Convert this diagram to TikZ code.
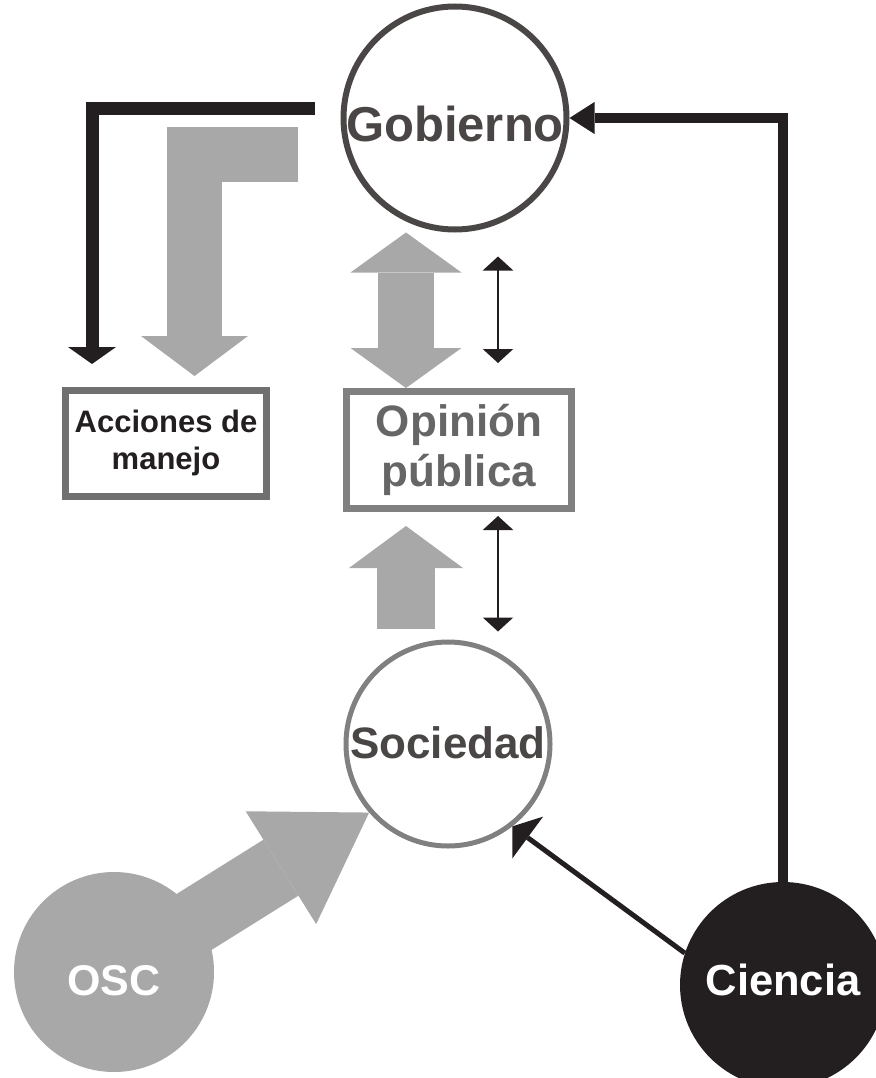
\documentclass[tikz,border=0pt]{standalone}
\usepackage{fontspec}
\setmainfont{Liberation Sans}
\usetikzlibrary{arrows.meta}

\definecolor{ink}{HTML}{231F20}
\definecolor{darkline}{HTML}{4A4646}
\definecolor{midline}{HTML}{808080}
\definecolor{boxline}{HTML}{707070}
\definecolor{fatgray}{HTML}{A8A8A8}
\definecolor{optext}{HTML}{666666}

\tikzset{
  actor/.style={circle, inner sep=0pt},
  panel/.style={rectangle, draw, line width=7pt, inner sep=0pt, align=center},
  fat/.style={draw=fatgray, line width=#1},
  thin/.style={draw=ink, line width=2.5pt, {Triangle[length=14pt,width=30pt]}-{Triangle[length=14pt,width=30pt]}}
}

\begin{document}
\begin{tikzpicture}[x=1pt,y=-1pt]
    \useasboundingbox (0,0) rectangle (875,1078);

    \node[actor, draw=darkline, line width=6pt, minimum size=220pt, text=darkline, text height=48pt, text depth=0pt, font=\bfseries\fontsize{49}{59}\selectfont] (gob) at (455,118) {Gobierno};
    \node[actor, draw=midline, line width=5pt, minimum size=204pt, text=darkline, text height=32pt, text depth=4pt, font=\bfseries\fontsize{44}{53}\selectfont] (soc) at (448,744) {Sociedad};
    \node[actor, fill=fatgray, minimum size=200pt, text=white, text height=46pt, text depth=0pt, font=\bfseries\fontsize{43}{52}\selectfont] (osc) at (114,972) {OSC};
    \node[actor, fill=ink, minimum size=206pt, text=white, text height=32pt, text depth=12pt, font=\bfseries\fontsize{43.5}{52}\selectfont] (cie) at (783,985) {Ciencia};

    \node[panel, draw=boxline, minimum width=201pt, minimum height=106pt, text=ink, font=\bfseries\fontsize{31}{37}\selectfont] (acc) at (166,443) {Acciones de\\manejo};
    \node[panel, draw=midline, minimum width=225pt, minimum height=117pt, text=optext, font=\bfseries\fontsize{44}{50}\selectfont] (op) at (459,450) {Opinión\\pública};

    \coordinate (glstart) at (298,154.5);
    \coordinate (gltip) at (194.5,376);
    \coordinate (blstart) at (315,108.5);
    \coordinate (bltip) at (92,364);

    \draw[fat=55pt, -{Triangle[length=40pt,width=107pt,line width=0pt]}] (glstart) -| (gltip);
    \draw[ink, line width=13pt, -{Triangle[length=17pt,width=48pt,line width=0pt]}] (blstart) -| (bltip);

    \draw[fat=56pt, {Triangle[length=40pt,width=111pt,line width=0pt]}-{Triangle[length=40pt,width=111pt,line width=0pt]}]
        ([xshift=-49pt]gob.south) -- ([xshift=-53pt]op.north);
    \draw[fat=58pt, -{Triangle[length=42pt,width=114pt,line width=0pt]}, shorten <=11pt, shorten >=14pt]
        ([xshift=-42pt]soc.north) -- ([xshift=-53pt]op.south);

    \draw[thin, shorten <=24pt, shorten >=25pt] ([xshift=43pt]gob.south) -- ([xshift=39pt]op.north);
    \draw[thin, shorten <=4pt, shorten >=8pt] ([xshift=39pt]op.south) -- ([xshift=50pt]soc.north);

    \draw[fat=66pt, -{Triangle[length=104pt,width=133pt,line width=0pt]}, shorten <=70pt] (osc.center) -- (soc.-139);

    \draw[ink, line width=10pt, -{Triangle[length=25pt,width=32pt,line width=0pt]}] (cie.north) |- (gob.east);
    \draw[ink, line width=5pt, -{Triangle[length=19pt,width=52pt,line width=0pt]}] (cie.162) -- (soc.-52);
\end{tikzpicture}
\end{document}
